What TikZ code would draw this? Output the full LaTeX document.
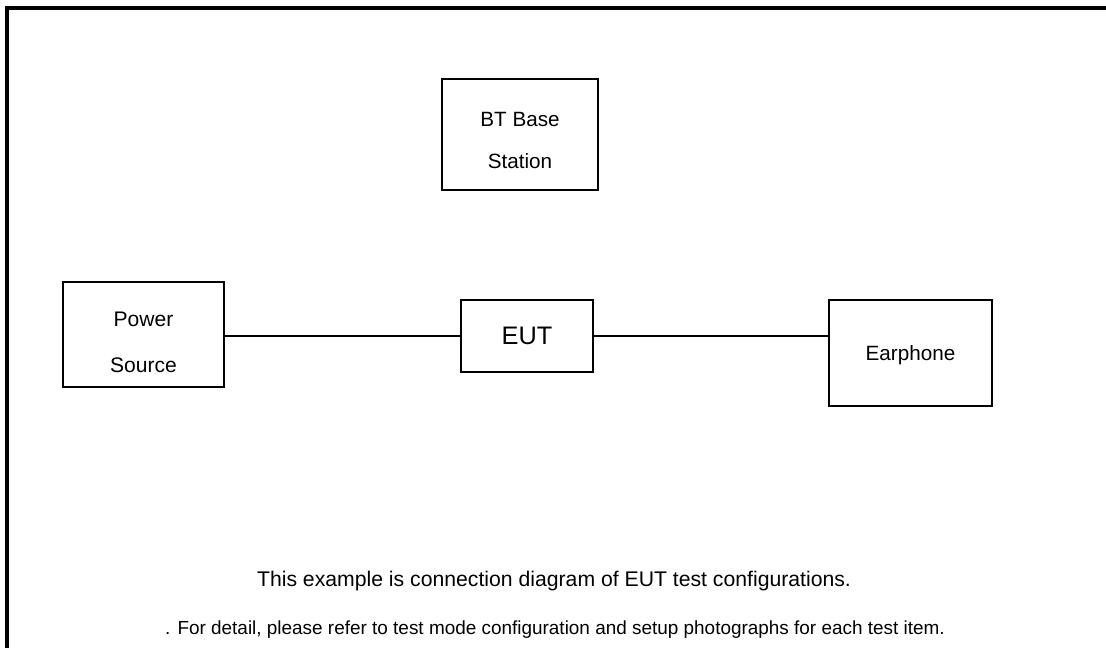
\documentclass[tikz,border=0pt]{standalone}
\usepackage{fontspec}
\setmainfont{Liberation Sans}
\begin{document}
\begin{tikzpicture}[
        x=0.75pt, y=-0.75pt,
        unit/.style={draw, line width=0.8pt, inner sep=0pt, align=center,
                     font=\fontsize{15.5}{31.5}\selectfont},
        wire/.style={line width=0.8pt},
        note/.style={inner sep=0pt, font=\fontsize{14.2}{16}\selectfont}
    ]
  \useasboundingbox (0,0) rectangle (1106,648);
  % Open frame
  \draw[line width=2.3pt] (7,648) -- (7,8) -- (1106,8);

  %%% Units
  \node[unit, minimum width=156*0.75pt, minimum height=111*0.75pt,
        text height=51.5pt] (base) at (520,134.5) {BT Base\\Station};
  \node[unit, minimum width=161*0.75pt, minimum height=105*0.75pt,
        font=\fontsize{15.8}{35}\selectfont, text height=57.6pt] (power) at (143.5,334.5) {Power\\Source};
  \node[unit, minimum width=132*0.75pt, minimum height=72*0.75pt,
        font=\fontsize{19}{22}\selectfont] (eut) at (527,336) {EUT};
  \node[unit, minimum width=163*0.75pt, minimum height=106*0.75pt,
        text height=14pt] (phone) at (910.5,353) {Earphone};

  % Cables
  \draw[wire] (power.east |- eut.west) -- (eut.west);
  \draw[wire] (eut.east) -- (eut.east -| phone.west);

  %%% Notes
  \node[note, font=\fontsize{15.9}{18}\selectfont] (note1) at (554,581) {This example is connection diagram of EUT test configurations.};
  \node[note] (note2) at (555,630) {. For detail, please refer to test mode configuration and setup photographs for each test item.};
\end{tikzpicture}
\end{document}
